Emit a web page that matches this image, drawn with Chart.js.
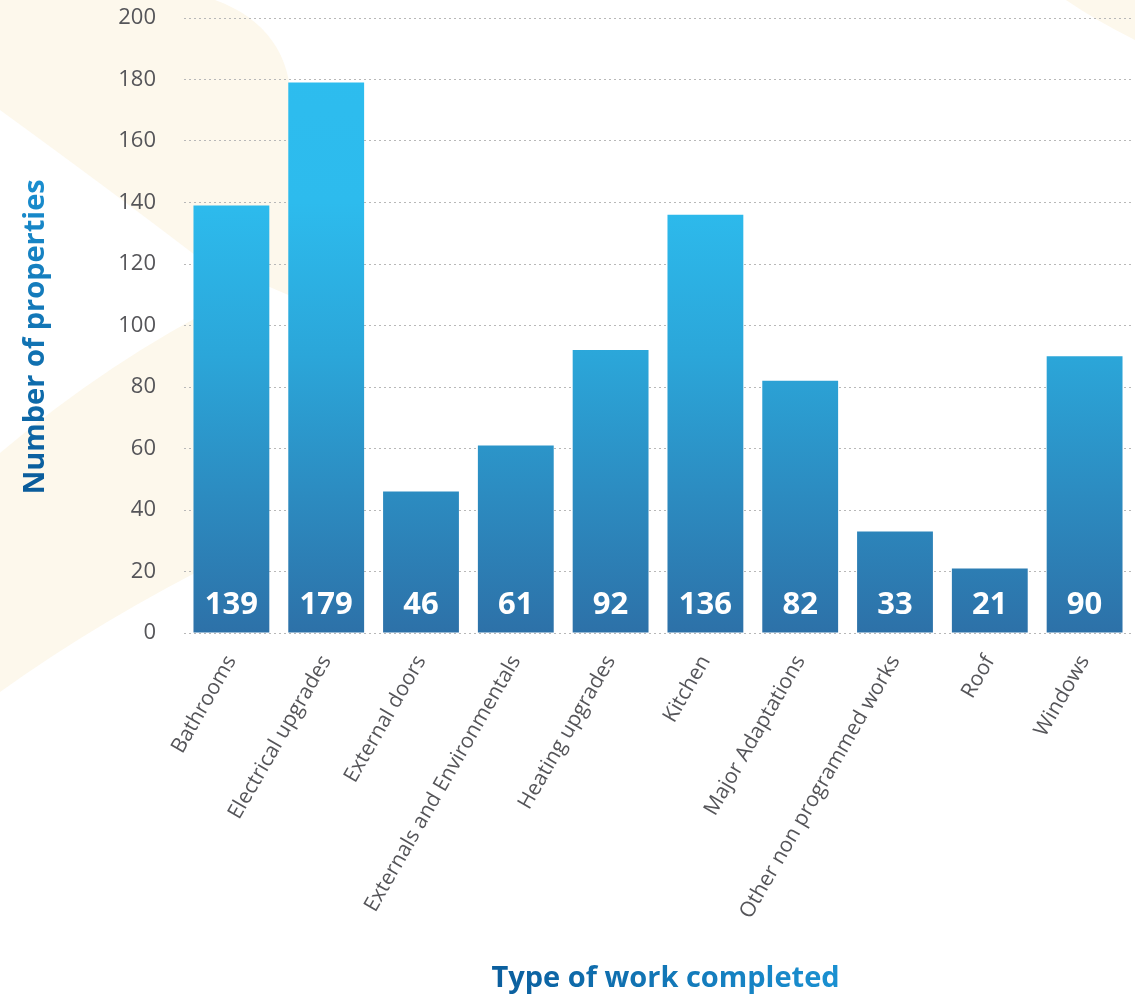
<!DOCTYPE html>
<html>
<head>
<meta charset="utf-8">
<script src="https://cdn.jsdelivr.net/npm/chart.js@4.4.1/dist/chart.umd.min.js"></script>
<style>
    html, body { margin: 0; padding: 0; background: #ffffff; }
    #wrap { width: 1135px; height: 996px; position: relative; }
</style>
</head>
<body>
<div id="wrap"><canvas id="chart"></canvas></div>
<script>
const categories = [
    'Bathrooms',
    'Electrical upgrades',
    'External doors',
    'Externals and Environmentals',
    'Heating upgrades',
    'Kitchen',
    'Major Adaptations',
    'Other non programmed works',
    'Roof',
    'Windows',
];
const propertyCounts = [139, 179, 46, 61, 92, 136, 82, 33, 21, 90];
const yTicks = [0, 20, 40, 60, 80, 100, 120, 140, 160, 180, 200];

const FONT = "'Open Sans', 'DejaVu Sans', sans-serif";
const TICK_GREY = '#555559';
const CREAM = '#fdf8ec';

const canvas = document.getElementById('chart');
const ctx = canvas.getContext('2d');

// headings are drawn translated to their centre, so gradients use local coords
const xTitleGrad = ctx.createLinearGradient(-178, 0, 178, 0);
xTitleGrad.addColorStop(0, '#0a5c9b');
xTitleGrad.addColorStop(1, '#1a90d1');
const yTitleGrad = ctx.createLinearGradient(-160, 0, 160, 0);
yTitleGrad.addColorStop(0, '#0a5c9b');
yTitleGrad.addColorStop(1, '#1a90d1');

function barGradient(context) {
    const area = context.chart.chartArea;
    if (!area) return '#2b9fd6';
    const g = context.chart.ctx.createLinearGradient(0, area.bottom, 0, area.top);
    g.addColorStop(0, '#2d71a8');
    g.addColorStop(0.45, '#2ba6d9');
    g.addColorStop(0.7, '#2dbbed');
    g.addColorStop(1, '#2dbdef');
    return g;
}

// cream background blobs
const backdrop = {
    id: 'backdrop',
    beforeDraw(chart) {
        const c = chart.ctx;
        c.save();
        c.fillStyle = '#ffffff';
        c.fillRect(0, 0, chart.width, chart.height);
        c.fillStyle = CREAM;

        c.beginPath();
        c.moveTo(0, 0);
        c.lineTo(215, 0);
        c.bezierCurveTo(265, 18, 293, 55, 291, 110);
        c.bezierCurveTo(290, 180, 292, 240, 300, 300);
        c.lineTo(195, 255);
        c.quadraticCurveTo(110, 190, 0, 110);
        c.closePath();
        c.fill();

        c.beginPath();
        c.moveTo(0, 453);
        c.quadraticCurveTo(110, 360, 230, 300);
        c.lineTo(230, 555);
        c.quadraticCurveTo(100, 620, 0, 692);
        c.closePath();
        c.fill();

        c.beginPath();
        c.moveTo(1066, 0);
        c.lineTo(1135, 0);
        c.lineTo(1135, 40);
        c.quadraticCurveTo(1095, 20, 1066, 0);
        c.closePath();
        c.fill();
        c.restore();
    }
};

// white value labels near the bottom of each bar
const barValues = {
    id: 'barValues',
    afterDatasetsDraw(chart) {
        const c = chart.ctx;
        const meta = chart.getDatasetMeta(0);
        const zero = chart.scales.y.getPixelForValue(0);
        c.save();
        c.fillStyle = '#ffffff';
        c.font = `bold 31px ${FONT}`;
        c.textAlign = 'center';
        c.textBaseline = 'alphabetic';
        meta.data.forEach((bar, i) => {
            c.fillText(String(propertyCounts[i]), bar.x, zero - 19);
        });
        c.restore();
    }
};

new Chart(canvas, {
    type: 'bar',
    data: {
        labels: categories,
        datasets: [{
            data: propertyCounts,
            backgroundColor: barGradient,
            borderWidth: 0,
            barPercentage: 0.8,
            categoryPercentage: 1.0,
        }]
    },
    options: {
        responsive: true,
        maintainAspectRatio: false,
        animation: false,
        devicePixelRatio: 1,
        layout: { padding: { top: 18, right: 3, left: 0, bottom: 0 } },
        plugins: {
            legend: { display: false },
            tooltip: { enabled: false },
        },
        scales: {
            x: {
                grid: { display: false },
                border: { display: false },
                ticks: {
                    color: TICK_GREY,
                    font: { family: FONT, size: 21, weight: '500' },
                    minRotation: 60,
                    maxRotation: 60,
                    padding: 10,
                    autoSkip: false,
                },
                title: {
                    display: true,
                    // leading spaces nudge the heading right, as in the original
                    text: '  Type of work completed',
                    color: xTitleGrad,
                    font: { family: FONT, size: 29, weight: 'bold' },
                    padding: { top: 0, bottom: 0 },
                },
                afterFit(scale) {
                    scale.height = 363;
                    scale.paddingTop = 0;
                    scale.paddingBottom = 0;
                },
            },
            y: {
                min: 0,
                max: 200,
                grid: {
                    color: '#b8b8b8',
                    lineWidth: 1,
                    drawTicks: false,
                },
                border: { display: false, dash: [2, 3] },
                afterBuildTicks(scale) {
                    scale.ticks = yTicks.map(v => ({ value: v }));
                },
                ticks: {
                    color: TICK_GREY,
                    font: { family: FONT, size: 22, weight: '500' },
                    padding: 28,
                },
                title: {
                    display: true,
                    // trailing spaces push the rotated heading a bit lower
                    text: 'Number of properties   ',
                    color: yTitleGrad,
                    font: { family: FONT, size: 29, weight: 'bold' },
                    padding: { top: 18, bottom: 0 },
                },
                afterFit(scale) {
                    scale.width = 184;
                    scale.paddingTop = 0;
                    scale.paddingBottom = 0;
                },
            }
        }
    },
    plugins: [backdrop, barValues]
});
</script>
</body>
</html>
